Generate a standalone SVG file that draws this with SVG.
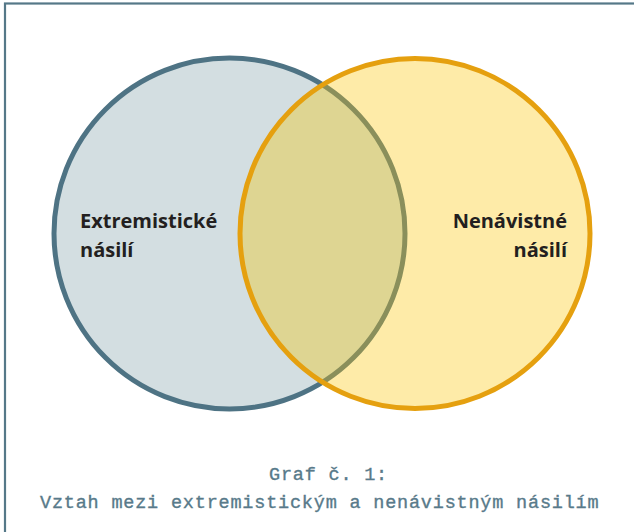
<svg xmlns="http://www.w3.org/2000/svg" width="634" height="532" viewBox="0 0 634 532">
  <style>
    .label { font-family: "Open Sans", "Noto Sans", "Liberation Sans", sans-serif; font-weight: 700; font-size: 20px; fill: #231f20; }
    .caption { font-family: "Liberation Mono", "DejaVu Sans Mono", monospace; font-size: 18.5px; letter-spacing: 0.8px; fill: #587a8a; stroke: #587a8a; stroke-width: 0.35px; }
  </style>
  <defs>
    <clipPath id="clipYellow">
      <circle cx="415" cy="233.5" r="175"/>
    </clipPath>
  </defs>
  <rect x="0" y="0" width="634" height="532" fill="#ffffff"/>
  <rect id="frame" x="5" y="3.5" width="640" height="540" fill="none" stroke="#557888" stroke-width="2.2"/>
  <g id="extremisticke">
    <circle cx="229.5" cy="233.5" r="175.5" fill="#d3dee1" stroke="#4e7384" stroke-width="5"/>
  </g>
  <g id="nenavistne">
    <circle cx="415" cy="233.5" r="175" fill="#feeba8"/>
  </g>
  <g id="overlap" clip-path="url(#clipYellow)">
    <circle cx="229.5" cy="233.5" r="175.5" fill="#ded592" stroke="#8a8f5b" stroke-width="5"/>
  </g>
  <circle cx="415" cy="233.5" r="175" fill="none" stroke="#e5a00f" stroke-width="5"/>
  <g id="labels">
    <text class="label" x="80" y="228">Extremistické</text>
    <text class="label" x="80" y="257">násilí</text>
    <text class="label" x="567" y="228" text-anchor="end">Nenávistné</text>
    <text class="label" x="567" y="257" text-anchor="end">násilí</text>
  </g>
  <g id="caption">
    <text class="caption" x="269" y="480">Graf č. 1:</text>
    <text class="caption" x="40" y="508">Vztah mezi extremistickým a nenávistným násilím</text>
  </g>
</svg>
